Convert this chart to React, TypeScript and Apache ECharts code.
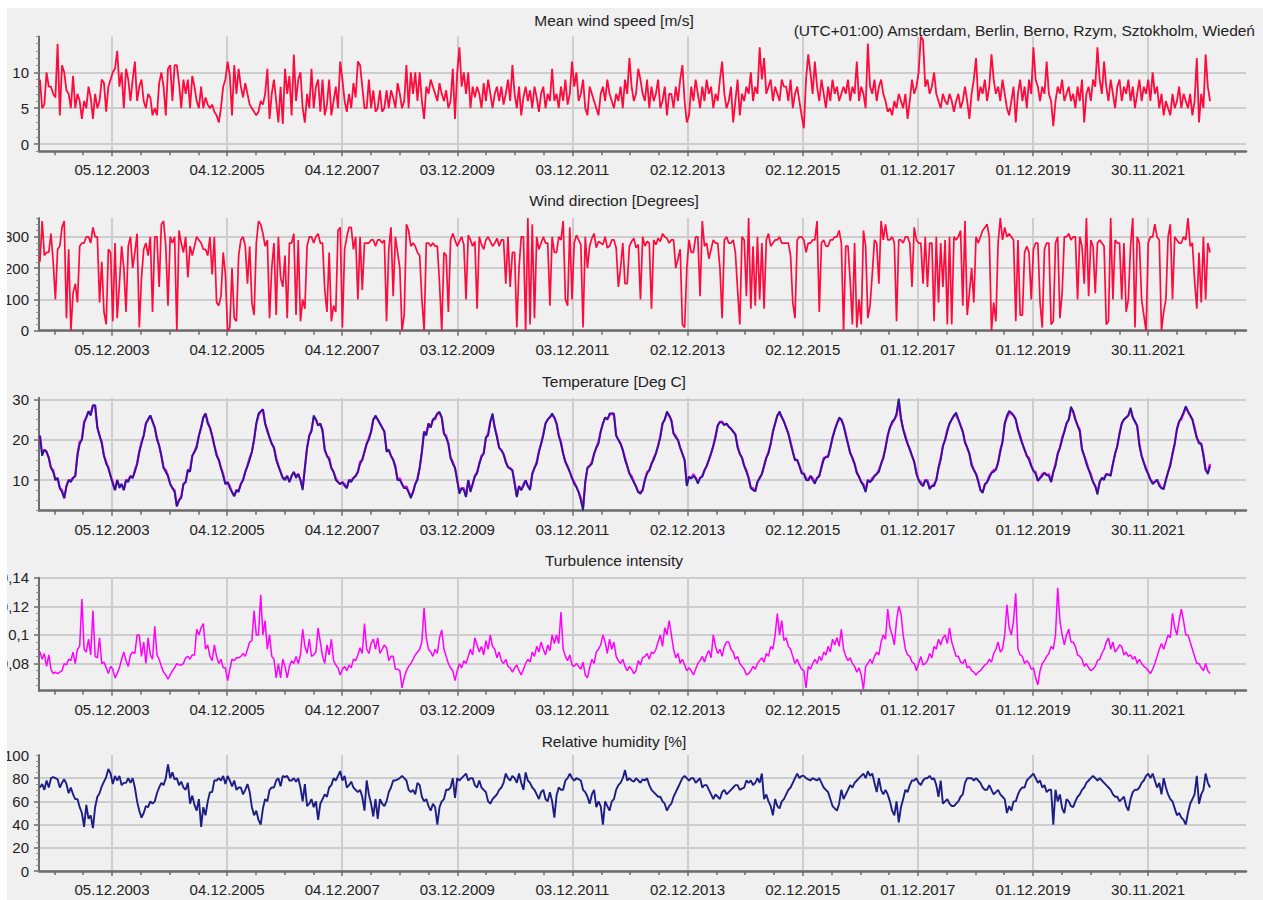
import React, { useEffect, useRef } from "react";
import * as echarts from "echarts";

const DAY = 86400000;
const START = Date.UTC(2002, 8, 4);
const STEP_DAYS = 14;
const X_MIN = Date.UTC(2002, 7, 29);
const X_MAX = Date.UTC(2023, 7, 13);

const xTickLabels = ["05.12.2003", "04.12.2005", "04.12.2007", "03.12.2009", "03.12.2011", "02.12.2013", "02.12.2015", "01.12.2017", "01.12.2019", "30.11.2021"];

const titles = ["Mean wind speed [m/s]", "Wind direction [Degrees]", "Temperature [Deg C]", "Turbulence intensity", "Relative humidity [%]"];
const zoneText = "(UTC+01:00) Amsterdam, Berlin, Berno, Rzym, Sztokholm, Wiedeń";

const windSpeedTicks = [0, 5, 10];
const windDirTicks = [0, 100, 200, 300];
const tempTicks = [10, 20, 30];
const turbTicks = [0.08, 0.1, 0.12, 0.14];
const humidityTicks = [0, 20, 40, 60, 80, 100];

const windSpeed = [
  9,5,5.5,10,8,8,7,6.5,14,4,11,10,7.5,7,5,9.5,5,7,6,3.5,6,5,8,6.5,3.5,7,
  5,6,9,8.5,4.5,8,9,10,10.5,13,8,10,5,10.5,9,6,9,11.5,6,8,9,6,5,7,6.5,4,
  5,4,8.5,10,8,4,10.5,11,6,11,11,8.5,5,9,7,9,5,9.5,8,6,5,8,5,6.5,5.5,5,
  5.5,4.5,4,3,5,8,9,11.5,9.5,4,11,7,10.5,8,6.5,8.5,7,5.5,5,4.5,4,4.5,6,5.5,7,10.5,
  3.5,7,9,6,3,8,2.8,10.5,7,9.5,4,12.5,6,9,10,5,3,7,5,10.5,5,8,9,4.5,9,4,
  5.5,9,4,6,8,5,11.5,9,6,4.5,7,5,8.5,6.5,11.5,11,8,5,5,9,5,7.5,4.5,5,7.5,4.5,
  5,7.5,5,7.5,6.5,5,8.5,7,5,6,11,5,10,7,10,6,10,6,3.5,8,7,9,8,7,6,8.5,
  7,6,7.5,5,6,10.5,3.5,10,13.5,8,10,7,10,5,8,6.5,8,7,5,8.5,6,9,7,5,7,8,
  6,8,5.5,7,9,6,11,7,5,8,4,6.5,8,6,7.5,5,8,6.5,4.5,7,8,5,7,6,10.5,6,
  7,5,8,6,9,5.5,7,11.5,8,10,6,7,9,5,4,8,7,6,5,4,7,8,6,9,7,6,
  5,7,6,8,5,9,7,12,8,6,7,10.5,9,7,6,9,5,8,6,7,9,5,6,8,4,7,
  7,5,8,6,9,11,6,3,4,8,6,9,7,5,8,6,9,7,8,5,7,6,9,11.5,7,5,
  6,8,3,6,9,4,7,6,8,7,10,6,8,7,13.5,9,12,7,8,9,6,8,7,6,9,8,
  8,6,9,5,7,8,6,4,2.2,9,12.5,10,7,11.5,8,6,9,7,5,8,6,9,7,8,6,7,
  8,7,9,6,8,7,11.5,6,8,7,5,14,8,7,9,6,8,9,7,6,4.5,5,4,6,5,7,
  6,5,7,3.5,6,9,7,8,10,15,14.5,8,9,7,8,10,7,6,5,7,6,5.5,7,6,4.5,6,
  7,5,6,8,6,3.5,7,9,12,6,8,7,9,6,8,12.5,9,7,8,6,9,7,5,4,6,8,
  3,7,9,6,8,5,9,7,13.5,9,8,6,8,7,11.5,7,6,2.5,6,8,7,9,6,7,8,6,
  7,5,8,6,9,3,7,8,6,9,8,13.5,9,7,11.5,8,6,9,7,5,8,9,6,8,7,9,
  6,8,5,7,9,6,8,7,9,6,10,7,8,5,7,4,6,5,4,7,5,6,8,5,7,6,
  5,7,4,6,12,3,7,5,12.5,8,6,
];

const windDirection = [
  220,350,240,250,250,310,220,100,260,270,330,350,40,260,0,120,150,90,270,280,280,300,300,280,330,300,
  300,90,220,60,20,260,250,30,280,40,150,270,200,60,270,300,200,250,310,10,170,260,280,240,300,60,
  300,300,140,340,350,270,80,300,280,300,0,320,280,250,300,170,270,240,270,300,290,280,260,260,240,300,
  180,300,90,80,110,250,180,0,10,200,40,30,240,290,300,270,150,270,90,50,280,350,340,310,270,290,
  40,200,280,50,300,170,140,240,40,280,280,310,50,290,30,100,70,270,300,300,280,300,310,280,280,130,
  60,250,30,80,60,320,330,10,260,300,330,330,260,300,100,300,130,280,280,280,290,290,270,290,290,280,
  290,30,260,330,110,300,250,200,0,50,340,320,270,280,270,250,240,100,0,280,280,270,280,270,270,150,
  0,250,240,60,290,310,290,270,285,300,275,100,305,290,270,285,70,300,275,260,290,300,285,270,280,295,
  270,290,290,150,300,140,250,250,10,200,300,300,0,360,20,340,40,300,260,280,300,280,280,80,300,250,
  250,300,290,350,100,80,330,100,280,305,290,275,10,300,200,270,295,310,265,285,280,275,300,265,270,290,
  290,265,140,200,280,150,150,270,285,295,265,275,100,300,270,285,280,70,290,275,295,285,310,300,295,280,
  290,290,200,230,260,20,10,200,290,250,250,300,300,110,350,270,280,230,260,290,280,280,200,40,290,300,
  280,280,290,250,130,20,300,290,110,360,70,270,80,300,100,280,70,290,310,270,280,290,290,300,280,280,
  280,280,240,90,40,290,300,300,290,250,280,280,290,290,350,60,280,290,270,270,290,290,300,300,320,280,
  0,270,270,160,20,280,10,100,20,320,270,40,80,180,290,280,150,350,290,340,290,290,300,280,30,290,
  290,280,300,300,280,140,330,290,280,280,150,300,140,280,280,30,300,90,280,140,290,20,300,20,300,290,
  300,320,80,350,50,120,200,90,300,280,300,320,330,340,300,0,90,30,280,360,290,330,300,310,300,290,
  30,290,50,50,250,270,250,100,260,280,280,90,10,260,280,280,20,30,280,300,40,120,300,300,310,290,
  300,300,100,300,270,150,360,110,290,270,120,280,290,280,270,20,30,360,100,290,280,280,100,280,60,100,
  270,360,10,300,280,100,50,0,280,300,300,340,300,290,0,60,100,300,340,100,300,290,280,280,300,290,
  360,270,280,160,70,250,90,300,100,280,250,
];

const temperatureA = [
  21,16,17.5,17,15.5,13,12,10,10.5,8,7,5.5,8.5,10,9.5,10.5,11,16,19,20,24,25.5,27,26,28.5,28.5,
  23,21,19,16,14,13,11,9,7.5,10,8,9,7.5,10,9.5,11,10.5,12,14,17,19,21,24,25,26,24.5,
  23,20,18.5,16,13,12,11,9,8,7,3.5,5,5.5,9,9.5,12.5,12,16,17,18,21,23,25.5,26.5,24,23,
  21,18.5,16,15,13,11,9,9.5,8,7,6,7.5,7,9,10,12,13.5,15,17,20,24,26.5,27,27.5,24,22,
  20.5,19,18,15,13.5,12,10.5,10,11,9.5,11,12,10.5,11.5,10,7.5,13,18,21,22,26,25,23.5,24,22,17.5,
  16,15,13,12,10,9.5,9,9.5,8.5,8,10,9.5,10.5,11,12,14,15,17,19,20,22,25,26,25,24,23,
  22,17,17.5,16,15,13,10,10,9,8,8,7,5.5,7,9,10,13,17,22,21,24,23,25,25.5,26.5,26.9,
  25.5,21.5,20.5,19,15.5,14,13,10,6.6,8,7.5,5.8,10,7,9,11,11.6,14,15.7,16.6,20.5,21,24.5,26.5,23,20.5,
  18,17.4,16.3,14.5,13.2,12.8,12.4,9,5.8,8.5,7.5,8.5,9.9,8.5,7.5,11.5,13,14,17,19,21,24,25,25.6,26.5,25.5,
  24,21,19,16.5,14.5,13.2,12,10.5,9,8.3,7,5,2.5,9.5,13,13.5,14,16.5,18,19,22,24,25.5,25,26.5,26.5,
  26.5,21,20,19,17.4,15,13.5,11.6,10.5,9.5,8.3,7,6.6,7.5,10,11.6,12.4,14,15,16.6,18.5,20.5,24,25,27,26,
  24.8,21.5,20.5,19.9,18,16.5,14.9,8.5,10.8,10.4,11,10.5,9.1,10.5,10.8,12.4,13.5,15,16.6,18.5,20.5,23.5,24.4,24.2,23.6,24,
  23.2,22.7,22,21.3,18,16.5,15.5,13.5,12,10.5,8,7.5,7.2,9.5,10.5,11.5,13.5,15.5,16.6,19,22,24,26,27,25.6,24.5,
  23,21.5,19,17,14.9,15,13.5,11.6,11.6,10,9.9,11,10,9.1,10.5,11,13.2,15,15.7,15.7,18,20.5,22.3,24,25.5,25,
  23.5,21,19,16.7,15.5,14,11.7,10.8,9.5,8.5,7,10,9.5,10,11,11.5,12,14,15.5,18,21,23,24.5,25,26.5,30.2,
  25.5,22.6,20.5,19,17.6,16,14.5,11.5,10,9,8.5,10,9.5,7.7,8.5,8.5,10,13,15,18.4,20,22,24,25,26,26.7,
  25,23.5,22,19.2,18,16.5,13.5,12.5,11.5,9.5,7.5,6.8,8.9,9.5,10.5,11.8,12,12.6,14.3,17,19.5,24,26,27.1,26.7,26,
  25,22.5,20.5,19,17.5,16,15,13.5,12.3,11.5,9.8,10.5,11,11.8,11.2,11,9.5,12,13.5,16.5,18,20,22,24,25,28.2,
  27,25,23.5,22,17.6,16,14,12.6,11,9.5,8.5,6.4,9.5,10.5,10,11.5,11.3,11,14,16.5,18.4,21.5,24,25,25.5,26,
  27.9,25.5,24.5,23.4,18.5,16,14.3,12.5,11.5,10.1,9,9.5,10.1,8.5,8,7.7,10,12,13.5,16.5,19,22.6,24.5,25.5,26.7,28.3,
  27,26,25,22.5,20.5,19,19,16,12.5,11.5,13.5,
];

const temperatureB = [
  21,16.5,17.5,17,15.5,13,12.5,10,10.5,8,7.5,5.5,8.5,10,10,10.5,11,16.5,19.5,20,24.5,25.5,27,26.5,28.5,28.5,
  23,21,19.5,16,14.5,13,11,9.5,7.5,10,8.5,9,7.5,10,10,11,10.5,12.5,14,17,19.5,21,24,25,26,24.5,
  23,20.5,18.5,16,13,12.5,11,9,8,7.5,3.5,5,6,9,9.5,12.5,12.5,16,17,18.5,21,23,25.5,26.5,24.5,23,
  21,18.5,16.5,15,13,11.5,9,9.5,8.5,7,6,7.5,7.5,9,10,12,13.5,15.5,17,20,24,26,27,27.5,24,22.5,
  20.5,19,18,15.5,13.5,12,10.5,10.5,11,9.5,11,12,11,11.5,10,8,13,18,21,22.5,25.5,25,23.5,24,22.5,17.5,
  16,15.5,13,12,10.5,9.5,9,9.5,9,8,10,10,10.5,11,12,14.5,15,17,19,20.5,22,25,25.5,25,24,23,
  22,17.5,17.5,16,15,13.5,10,10.5,9,8,8.5,7,6,7,9,10.5,13,17,22,21.5,24,23,25,25,26.5,26.5,
  25.5,21.5,21,19,15.5,14.5,13,10,7,8,8,5.8,10,7.5,9,11,12,14,16,16.6,20.5,21.5,24.5,26,23,21,
  18,17.4,16.5,14.5,13.2,13,12.4,9.5,6,8.5,7.5,9,9.9,8.5,8,11.5,13,14.5,17,19,21.5,24,25,25.6,26,25.5,
  24,21,19.5,16.5,14.5,13.5,12,10.5,9.5,8.3,7,5.5,3,9.5,13,13.5,14.5,16.5,18,19.5,22,24,25.5,25,26,26.5,
  26,21,20,19,17.4,15.5,13.5,11.6,11,9.5,8.5,7,7,7.5,10,12,12.4,14,15.5,16.6,18.5,21,24,25,26.5,26,
  24.8,21.5,21,19.9,18,16.5,15,9,10.8,10.4,11.5,10.5,9.5,10.5,11,12.4,13.5,15,16.6,18.5,21,23.5,24.4,24.5,23.6,24,
  23.2,22.7,22,21.3,18.5,16.5,15.5,13.5,12.5,10.5,8,8,7.2,9.5,10.5,11.5,13.5,15.5,17,19,22,24,26,26.5,25.6,24.5,
  23,21.5,19.5,17,15,15,13.5,12,11.6,10.5,9.9,11,10.5,9.5,10.5,11,13.2,15.5,15.7,16,18,20.5,22.5,24,25,25,
  23.5,21.5,19,16.7,15.5,14,12,10.8,9.5,9,7.5,10,9.5,10.5,11,11.5,12.5,14,15.5,18,21,23,24,25,26,29.5,
  25,22.6,21,19,17.6,16,14.5,12,10,9.5,8.5,10,10,8,8.5,9,10,13,15.5,18.4,20,22.5,24,25,26,26,
  25,23.5,22,19.5,18,16.5,14,12.5,11.5,10,7.5,7,8.9,9.5,11,11.8,12.5,12.6,14.3,17.5,19.5,24,25.5,26.5,26.5,26,
  25,22.5,21,19,17.5,16,15.5,13.5,12.3,12,9.8,10.5,11.5,11.8,11.2,11.5,9.5,12,14,16.5,18,20.5,22,24,25,27.5,
  27,25,23.5,22.5,17.6,16,14.5,12.6,11.5,9.5,8.5,7,9.5,10.5,10.5,11.5,11.3,11.5,14,16.5,18.5,21.5,24,25,25.5,26,
  27.5,25.5,24.5,23.4,19,16,14.3,13,11.5,10.1,9.5,9.5,10.1,9,8,8,10,12,14,16.5,19,22.6,24.5,25,26.5,28,
  27,26,25,23,20.5,19.5,19,16.5,12.5,12,14,
];

const turbulence = [
  .088,.083,.087,.078,.086,.076,.073,.074,.073,.074,.075,.08,.079,.083,.082,.088,.08,.09,.092,.125,.09,.088,.097,.086,.117,.085,
  .084,.098,.08,.081,.077,.073,.078,.076,.07,.073,.077,.083,.088,.082,.078,.086,.088,.087,.1,.1,.085,.095,.08,.098,.086,.083,
  .106,.086,.083,.078,.074,.072,.069,.072,.075,.077,.08,.079,.079,.08,.084,.085,.083,.086,.086,.104,.1,.105,.108,.09,.093,.085,
  .082,.093,.085,.08,.083,.077,.077,.068,.076,.083,.082,.084,.084,.085,.087,.085,.09,.095,.096,.117,.1,.1,.128,.1,.11,.09,
  .1,.085,.083,.07,.08,.07,.083,.078,.07,.078,.082,.08,.085,.08,.086,.104,.092,.087,.097,.085,.086,.088,.105,.095,.085,.08,
  .093,.086,.097,.082,.079,.077,.072,.076,.078,.075,.079,.077,.083,.082,.086,.091,.087,.108,.09,.087,.094,.097,.09,.098,.087,.09,
  .093,.091,.082,.085,.085,.076,.076,.075,.063,.07,.075,.078,.08,.083,.086,.088,.09,.095,.119,.098,.09,.088,.085,.09,.087,.098,
  .1035,.09,.085,.08,.077,.075,.068,.075,.08,.077,.082,.08,.085,.09,.086,.098,.093,.088,.092,.086,.096,.09,.1,.092,.09,.084,
  .088,.082,.08,.083,.078,.077,.074,.077,.079,.075,.072,.076,.08,.083,.081,.088,.085,.092,.088,.095,.09,.086,.093,.089,.1,.094,
  .1,.094,.116,.09,.085,.082,.086,.079,.078,.08,.078,.076,.081,.072,.07,.077,.083,.08,.088,.09,.093,.1,.095,.087,.097,.09,
  .095,.085,.082,.08,.083,.078,.075,.078,.076,.073,.075,.082,.079,.084,.085,.087,.083,.088,.087,.09,.095,.1,.092,.105,.1,.11,
  .1,.09,.084,.087,.08,.083,.079,.075,.077,.075,.072,.076,.08,.082,.085,.081,.086,.089,.084,.1,.092,.087,.09,.085,.092,.095,
  .095,.09,.088,.083,.085,.08,.078,.076,.072,.073,.075,.078,.076,.08,.082,.084,.081,.087,.085,.092,.09,.1,.115,.1,.11,.096,
  .098,.092,.09,.085,.08,.083,.079,.076,.075,.063,.078,.076,.08,.083,.08,.085,.082,.088,.086,.092,.088,.097,.093,.098,.092,.104,
  .09,.085,.082,.084,.08,.078,.074,.077,.072,.062,.078,.08,.083,.08,.085,.088,.086,.095,.1,.097,.118,.105,.1,.093,.11,.12,
  .115,.1,.09,.086,.085,.081,.08,.075,.08,.085,.079,.08,.082,.087,.084,.092,.09,.097,.093,.098,.1,.094,.105,.095,.09,.085,
  .085,.081,.08,.083,.077,.078,.075,.074,.072,.074,.075,.077,.079,.08,.083,.081,.087,.09,.095,.088,.09,.1,.121,.105,.1,.11,
  .129,.09,.086,.085,.08,.082,.08,.076,.077,.07,.065,.075,.08,.082,.085,.087,.092,.09,.1,.133,.11,.1,.093,.1,.104,.095,
  .095,.092,.086,.085,.083,.078,.08,.077,.075,.076,.078,.082,.083,.087,.09,.095,.098,.09,.095,.088,.09,.093,.092,.086,.088,.085,
  .086,.083,.085,.08,.083,.08,.078,.077,.075,.073,.076,.08,.085,.09,.094,.09,.095,.1,.098,.115,.105,.1,.11,.118,.11,.1,
  .1,.095,.09,.085,.08,.08,.077,.075,.08,.075,.073,
];

const humidity = [
  72,75,70,78,72,80,81,80,79,72,76,79,75,67,72,66,62,62,55,50,38,57,45,48,37,55,
  64,67,73,77,81,88,84,75,82,78,82,74,76,76,80,76,80,72,60,52,46,50,56,55,60,58,
  60,67,72,76,74,80,92,80,85,79,80,74,77,72,70,76,58,65,57,52,62,38,55,48,60,68,
  68,78,78,80,78,82,75,82,78,73,78,70,72,72,66,70,75,68,55,48,52,44,40,54,62,60,
  70,72,72,78,80,73,82,81,82,78,78,80,77,80,72,60,75,56,58,62,55,60,44,58,62,66,
  64,72,74,80,78,82,86,78,82,72,74,77,72,70,68,70,64,52,78,66,58,47,62,45,62,58,
  56,60,68,72,78,78,79,80,82,80,78,70,68,70,66,76,74,64,60,62,56,52,58,55,40,55,
  60,62,70,70,72,80,63,80,78,80,82,84,78,80,80,74,72,78,72,70,68,60,58,62,64,66,
  70,72,76,84,80,78,82,80,76,84,76,70,85,78,76,72,70,66,62,68,70,62,60,68,60,46,
  65,72,70,70,78,80,84,80,78,80,79,78,70,68,64,58,66,70,55,60,56,40,60,56,52,60,
  62,70,74,76,80,87,78,80,78,77,80,78,76,79,78,80,74,70,68,66,64,64,60,58,52,56,
  58,64,68,72,76,80,82,80,78,80,80,76,78,80,72,74,74,70,66,62,66,64,62,68,70,66,
  68,70,72,74,74,70,71,72,78,76,78,74,76,80,76,84,62,66,60,56,48,62,56,54,60,62,
  66,70,72,76,80,84,80,82,82,80,79,78,80,79,78,80,76,72,70,68,62,56,54,52,58,70,
  62,66,70,74,72,76,78,80,82,84,80,86,82,84,76,68,80,70,66,70,66,60,52,48,60,42,
  55,62,70,68,74,78,78,80,76,74,78,80,80,82,79,80,74,64,78,58,60,62,58,56,56,58,
  60,64,66,76,80,80,80,78,80,78,76,72,70,70,74,70,66,68,70,66,64,62,50,56,52,60,
  60,66,70,72,72,78,80,82,84,80,76,78,72,74,68,70,70,40,70,60,66,54,50,62,60,56,
  55,60,64,66,70,72,76,78,80,82,80,78,80,78,76,74,72,70,66,64,64,60,62,64,56,52,
  62,68,70,70,72,76,78,82,84,80,84,78,72,76,66,80,72,66,62,60,54,48,50,46,44,40,
  50,58,62,66,82,58,66,70,84,76,72,
];

const FONT = "'Liberation Sans', Arial, sans-serif";
const AXIS_COLOR = "#6b6b6b";
const GRID_COLOR = "#cdcdcd";
const TEXT_COLOR = "#222222";

function parseLabel(s: string) {
  const [d, m, y] = s.split(".").map(Number);
  return Date.UTC(y, m - 1, d);
}

function fmtDate(v: number) {
  const d = new Date(v);
  const dd = String(d.getUTCDate()).padStart(2, "0");
  const mm = String(d.getUTCMonth() + 1).padStart(2, "0");
  return `${dd}.${mm}.${d.getUTCFullYear()}`;
}

function range(from: number, to: number, step: number, scale = 1) {
  const out: number[] = [];
  for (let k = Math.round(from / step); k * step <= to + 1e-9; k++) out.push(+(k * step / scale).toFixed(6));
  return out;
}

export default function App() {
  const ref = useRef<HTMLDivElement>(null);
  useEffect(() => {
    const chart = echarts.init(ref.current!, null, { renderer: "svg" });
    const majors = xTickLabels.map(parseLabel);
    const quarter = 182.5 * DAY;
    const minors: number[] = [];
    for (let k = -3; k <= 9 * 4 + 4; k++) {
      if (k % 4 === 0) continue;
      const t = majors[0] + k * quarter;
      if (t > X_MIN && t < X_MAX) minors.push(t);
    }
    const pairs = (arr: number[]) => arr.map((v, i) => [START + i * STEP_DAYS * DAY, v]);

    const panels = [
      { top: 28.5, height: 114.7, min: -1, max: 15, labels: windSpeedTicks, lines: windSpeedTicks, minor: range(-1, 15, 1), fmt: (v: number) => String(v),
        series: [{ data: windSpeed, color: "#ff0a3c", width: 1.8 }] },
      { top: 210, height: 112.7, min: 0, max: 360, labels: windDirTicks, lines: windDirTicks, minor: range(0, 360, 20), fmt: (v: number) => String(v),
        series: [{ data: windDirection, color: "#ff0a3c", width: 1.7 }] },
      { top: 389.7, height: 113, min: 2.4, max: 30.4, labels: tempTicks, lines: tempTicks, minor: range(2.5, 30, 2.5), fmt: (v: number) => String(v),
        series: [{ data: temperatureB, color: "#ff00ff", width: 2.2 }, { data: temperatureA, color: "#231b94", width: 1.8 }] },
      { top: 569.7, height: 113, min: 0.061, max: 0.14, labels: turbTicks, lines: turbTicks, minor: range(65, 140, 5, 1000), fmt: (v: number) => String(v).replace(".", ","),
        series: [{ data: turbulence, color: "#ff00ff", width: 1.5 }] },
      { top: 747, height: 116, min: 0, max: 100, labels: humidityTicks, lines: humidityTicks.slice(0, 5), minor: range(0, 100, 5), fmt: (v: number) => String(v),
        series: [{ data: humidity, color: "#1d1d86", width: 1.9 }] },
    ];

    const grid: any[] = [];
    const xAxis: any[] = [];
    const yAxis: any[] = [];
    const series: any[] = [];
    const labelStyle = { color: TEXT_COLOR, fontSize: 15, fontFamily: FONT };

    panels.forEach((p, g) => {
      grid.push({ left: 32, width: 1207, top: p.top, height: p.height, containLabel: false, outerBoundsMode: "none" });
      xAxis.push({
        type: "value", gridIndex: g, position: "bottom", min: X_MIN, max: X_MAX,
        axisLine: { show: true, onZero: false, lineStyle: { color: AXIS_COLOR, width: 2.5 } },
        axisTick: { show: true, customValues: majors, length: 5, lineStyle: { color: AXIS_COLOR, width: 1.5 } },
        axisLabel: { show: true, customValues: majors, formatter: (v: number) => fmtDate(v), margin: 11, ...labelStyle },
        splitLine: { show: true, lineStyle: { color: GRID_COLOR, width: 2 } },
      });
      xAxis.push({
        type: "value", gridIndex: g, position: "bottom", min: X_MIN, max: X_MAX,
        axisLine: { show: false, onZero: false },
        axisTick: { show: true, customValues: minors, length: 4, lineStyle: { color: AXIS_COLOR, width: 1.5 } },
        axisLabel: { show: false },
        splitLine: { show: false },
      });
      yAxis.push({
        type: "value", gridIndex: g, position: "left", min: p.min, max: p.max,
        axisLine: { show: true, onZero: false, lineStyle: { color: AXIS_COLOR, width: 2 } },
        axisTick: { show: true, customValues: p.lines, length: 5, lineStyle: { color: AXIS_COLOR, width: 1.5 } },
        axisLabel: { show: true, customValues: p.labels, formatter: p.fmt, margin: 10, ...labelStyle },
        splitLine: { show: true, lineStyle: { color: GRID_COLOR, width: 2 } },
      });
      yAxis.push({
        type: "value", gridIndex: g, position: "left", min: p.min, max: p.max,
        axisLine: { show: false, onZero: false },
        axisTick: { show: true, customValues: p.minor, length: 3, lineStyle: { color: "#8a8a8a", width: 1 } },
        axisLabel: { show: false },
        splitLine: { show: false },
      });
      p.series.forEach((s) => {
        series.push({
          type: "line", xAxisIndex: g * 2, yAxisIndex: g * 2, data: pairs(s.data),
          showSymbol: false, symbol: "none", silent: true, clip: true,
          lineStyle: { color: s.color, width: s.width }, itemStyle: { color: s.color },
        });
      });
    });

    const titleYs = [12, 192, 373.5, 552, 733];
    const graphic: any[] = titles.map((t, k) => ({
      type: "text", x: 607, y: titleYs[k],
      style: { text: t, textAlign: "center", textVerticalAlign: "middle", fill: TEXT_COLOR, fontSize: 15.5, fontFamily: FONT },
    }));
    graphic.push({
      type: "text", x: 1248, y: 22,
      style: { text: zoneText, textAlign: "right", textVerticalAlign: "middle", fill: TEXT_COLOR, fontSize: 15.5, fontFamily: FONT },
    });

    chart.setOption({
      animation: false,
      backgroundColor: "#f0f0f0",
      grid, xAxis, yAxis, series, graphic,
    });
    return () => chart.dispose();
  }, []);
  return (
    <div
      ref={ref}
      style={{ position: "fixed", left: 7, top: 8, width: 1256, height: 892, background: "#f0f0f0" }}
    />
  );
}
